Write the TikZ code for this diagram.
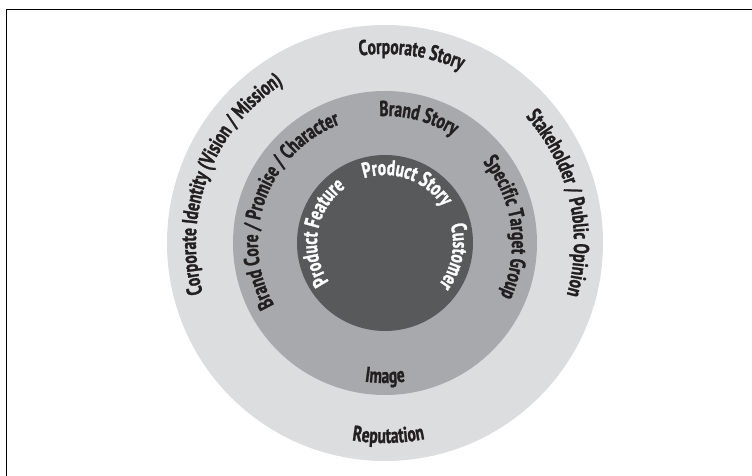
\documentclass[tikz,border=0pt]{standalone}
\usepackage{fontspec}
\newfontfamily\lblfamily[FakeStretch=0.72,FakeBold=1.2]{PT Sans}
\usetikzlibrary{decorations.text,calc}
\definecolor{ringOuter}{HTML}{DCDDDE}
\definecolor{ringMid}{HTML}{A7A9AC}
\definecolor{ringInner}{HTML}{58595B}
\definecolor{lblDark}{HTML}{231F20}
\newcommand\lbl{\lblfamily\bfseries\fontsize{21.5}{24}\selectfont}
% clockwise arc: text on top, letters pointing outward
\newcommand\ArcTop[4]{%
  \begingroup\lbl
  \path[decorate,decoration={text along path,text align=center,text color=#3,text={#4}}]
    ($(C)+({#1+85}:#2)$) arc[start angle={#1+85},end angle={#1-85},radius=#2];
  \endgroup}
% counter-clockwise arc: text at bottom, letters pointing inward
\newcommand\ArcBot[4]{%
  \begingroup\lbl
  \path[decorate,decoration={text along path,text align=center,text color=#3,text={#4}}]
    ($(C)+({#1-85}:#2)$) arc[start angle={#1-85},end angle={#1+85},radius=#2];
  \endgroup}
\begin{document}
\begin{tikzpicture}[x=1pt,y=1pt]
\useasboundingbox (0,0) rectangle (752,476);
\fill[white] (0,0) rectangle (752,476);
\draw[line width=1.2pt] (6.5,0) -- (6.5,466.5) -- (752,466.5);
\coordinate (C) at (385,233);
\fill[ringOuter] (C) circle[radius=218];
\fill[ringMid] (C) circle[radius=152];
\fill[ringInner] (C) circle[radius=88];
% outer ring
\ArcTop{82}{189}{lblDark}{Corporate Story}
\ArcTop{159}{189}{lblDark}{Corporate Identity (Vision / Mission)}
\ArcTop{13}{189}{lblDark}{Stakeholder / Public Opinion}
\ArcBot{271}{200}{lblDark}{Reputation}
% middle ring
\ArcTop{75}{127}{lblDark}{Brand Story}
\ArcTop{160}{127}{lblDark}{Brand Core / Promise / Character}
\ArcTop{7.5}{127}{lblDark}{Specific Target Group}
\ArcBot{270}{140}{lblDark}{Image}
% inner circle
\ArcTop{70}{68}{white}{Product Story}
\ArcTop{170}{68}{white}{Product Feature}
\ArcTop{-11}{68}{white}{Customer}
\end{tikzpicture}
\end{document}
